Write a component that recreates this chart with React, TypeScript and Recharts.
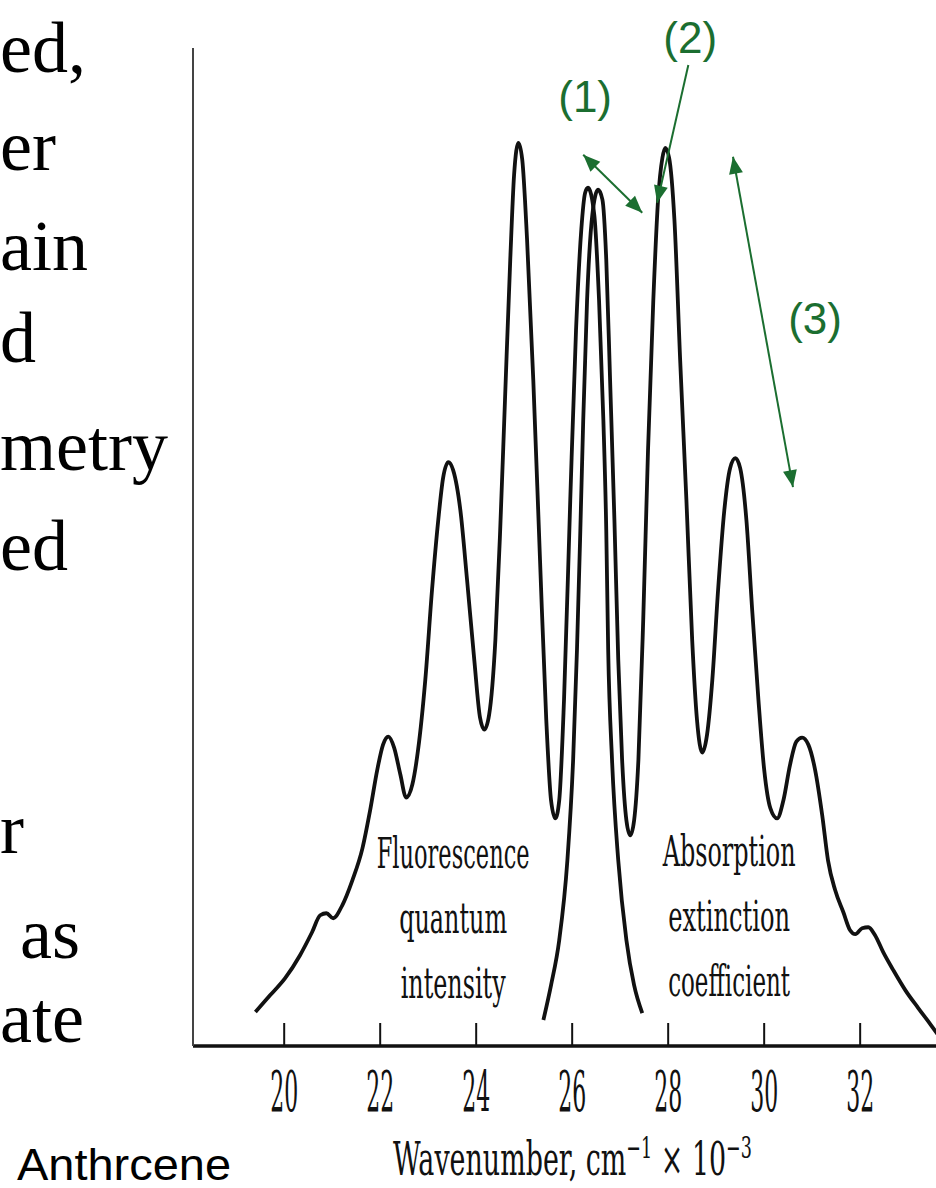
import { LineChart, Line, XAxis, YAxis, ReferenceLine, ReferenceDot } from 'recharts';

// wavenumber (cm^-1 x 10^-3) and relative height
const fluorescenceWavenumber = [
  19.4, 19.71, 20.02, 20.33, 20.58, 20.75, 20.88, 21.02, 21.21, 21.42, 21.63, 21.79, 21.94,
  22.06, 22.17, 22.29, 22.42, 22.54, 22.67, 22.79, 22.94, 23.08, 23.21, 23.31, 23.42, 23.52,
  23.67, 23.81, 23.96, 24.08, 24.17, 24.27, 24.4, 24.5, 24.6, 24.71, 24.79, 24.88, 24.96,
  25.06, 25.19, 25.33, 25.46, 25.56, 25.65, 25.73, 25.83, 25.96, 26.08, 26.19, 26.27, 26.33,
  26.46, 26.56, 26.65, 26.71, 26.75, 26.83, 26.96, 27.13, 27.29, 27.46,
];
const fluorescenceIntensity = [
  3.4, 5.1, 6.8, 9.1, 11.4, 13.1, 13.3, 12.8, 14.1, 16.6, 19.8, 23.6, 27.7,
  30.2, 31.0, 29.9, 27.2, 24.9, 26.2, 29.7, 36.7, 45.7, 52.7, 56.9, 58.5, 57.7,
  53.7, 46.7, 38.7, 32.9, 31.7, 33.2, 40.7, 51.7, 64.7, 78.8, 87.3, 90.5, 88.8,
  80.8, 66.7, 48.7, 32.7, 24.6, 22.8, 24.6, 34.7, 54.7, 71.7, 81.8, 85.5, 86.0,
  83.3, 74.7, 62.7, 51.7, 39.7, 28.7, 18.6, 10.6, 6.1, 3.3,
];

const absorptionWavenumber = [
  25.4, 25.56, 25.73, 25.9, 26.02, 26.1, 26.17, 26.23, 26.31, 26.42, 26.54, 26.63, 26.71,
  26.79, 26.88, 26.96, 27.04, 27.13, 27.21, 27.29, 27.38, 27.48, 27.58, 27.69, 27.79, 27.88,
  27.94, 28.02, 28.13, 28.25, 28.38, 28.5, 28.6, 28.71, 28.81, 28.92, 29.04, 29.17, 29.29,
  29.4, 29.5, 29.63, 29.75, 29.88, 30.0, 30.13, 30.27, 30.4, 30.54, 30.67, 30.79, 30.92,
  31.06, 31.21, 31.33, 31.48, 31.65, 31.79, 31.9, 32.04, 32.17, 32.31, 32.48, 32.69, 32.94,
  33.21, 33.46, 33.67,
];
const absorptionCoefficient = [
  2.6, 6.1, 10.6, 18.6, 28.7, 39.7, 51.7, 62.7, 74.7, 83.3, 85.8, 84.8, 78.8,
  66.7, 52.7, 38.7, 28.7, 22.6, 21.1, 22.6, 28.7, 42.7, 59.7, 74.7, 84.8, 89.0,
  90.0, 89.0, 82.8, 68.7, 54.7, 40.7, 32.7, 29.4, 31.2, 36.7, 45.7, 53.7, 57.9,
  58.9, 57.9, 52.7, 43.7, 34.7, 27.7, 23.8, 22.8, 24.6, 28.2, 30.5, 30.9, 30.2,
  27.7, 23.1, 18.6, 15.6, 13.4, 11.6, 11.2, 11.8, 11.9, 11.1, 9.4, 7.6, 5.6,
  3.8, 2.2, 0.8,
];

const xTicks = [20, 22, 24, 26, 28, 30, 32];

// green annotations: arrow ends and labels, in chart units
const arrowFrom = [{ x: 26.23, y: 89.3 }, { x: 28.42, y: 98.3 }, { x: 29.35, y: 89.1 }];
const arrowTo = [{ x: 27.46, y: 83.5 }, { x: 27.77, y: 84.5 }, { x: 30.6, y: 56.0 }];
const arrowDouble = [true, false, true];
const noteText = ['(1)', '(2)', '(3)'];
const noteAt = [{ x: 26.27, y: 95.1 }, { x: 28.46, y: 101.1 }, { x: 31.06, y: 72.9 }];

const fluorescenceLabel = ['Fluorescence', 'quantum', 'intensity'];
const absorptionLabel = ['Absorption', 'extinction', 'coefficient'];

// bits of slide text cut off at the left edge
const slideWords = ['ed,', 'er', 'ain', 'd', 'metry', 'ed', 'r', 'as', 'ate'];

const fluorescenceData = fluorescenceWavenumber.map((v, i) => ({ v, y: fluorescenceIntensity[i] }));
const absorptionData = absorptionWavenumber.map((v, i) => ({ v, y: absorptionCoefficient[i] }));

const GREEN = '#1b6e30';
const INK = '#111';
const SERIF = "'DejaVu Serif', 'Liberation Serif', serif";

const WaveTick = (props: any) => {
  const { x, y, payload } = props;
  return (
    <g>
      <line x1={x} y1={y} x2={x} y2={y - 23} stroke={INK} strokeWidth={2} />
      <text x={x} y={y + 65} textAnchor="middle" fontFamily={SERIF} fontSize={56}
        textLength={28} lengthAdjust="spacingAndGlyphs" fill={INK}>
        {payload.value}
      </text>
    </g>
  );
};

const head = (ax: number, ay: number, bx: number, by: number) => {
  const a = Math.atan2(by - ay, bx - ax);
  const len = 17, half = 7;
  const cx = bx - len * Math.cos(a), cy = by - len * Math.sin(a);
  return `${bx},${by} ${cx - half * Math.sin(a)},${cy + half * Math.cos(a)} ${cx + half * Math.sin(a)},${cy - half * Math.cos(a)}`;
};

const makeArrow = (both: boolean) => (p: any) => {
  const { x1, y1, x2, y2 } = p;
  return (
    <g>
      <line x1={x1} y1={y1} x2={x2} y2={y2} stroke={GREEN} strokeWidth={2} />
      <polygon points={head(x1, y1, x2, y2)} fill={GREEN} />
      {both && <polygon points={head(x2, y2, x1, y1)} fill={GREEN} />}
    </g>
  );
};

const makeNote = (text: string) => (p: any) => (
  <text x={p.cx} y={p.cy} textAnchor="middle" dominantBaseline="central"
    fontFamily="'Liberation Sans', Arial, sans-serif" fontSize={44} fill={GREEN}>
    {text}
  </text>
);

const makeBlock = (lines: string[], widths: number[]) => (p: any) => (
  <g>
    {lines.map((s, i) => (
      <text key={s} x={p.cx} y={p.cy + i * 65} textAnchor="middle" fontFamily={SERIF}
        fontSize={42} textLength={widths[i]} lengthAdjust="spacingAndGlyphs" fill={INK}>
        {s}
      </text>
    ))}
  </g>
);

// condensed serif title, squeezed with a horizontal scale
const AxisTitle = (p: any) => {
  const vb = p.viewBox;
  const cx = vb.x + vb.width / 2 + 8;
  return (
    <text transform={`translate(${cx} ${vb.y + 129}) scale(0.585 1)`} textAnchor="middle"
      fontFamily={SERIF} fontSize={46} fill={INK}>
      Wavenumber, cm<tspan dy={-17} fontSize={30}>−1</tspan>
      <tspan dy={17}> × 10</tspan>
      <tspan dy={-17} fontSize={30}>−3</tspan>
    </text>
  );
};

const slideBaselines = [72, 170, 270, 362, 470, 570, 853, 958, 1042];
const slideLeft = [0, 0, 0, 0, 0, 0, 0, 20, 0];

export default function App() {
  return (
    <div style={{ position: 'absolute', left: 0, top: 0, width: 936, height: 1188, background: '#fff', overflow: 'hidden' }}>
      <svg width={936} height={1188} style={{ position: 'absolute', left: 0, top: 0 }}>
        {slideWords.map((w, i) => (
          <text key={i} x={slideLeft[i]} y={slideBaselines[i]} fontFamily="'Liberation Serif', 'Times New Roman', serif"
            fontSize={72} fill="#000">
            {w}
          </text>
        ))}
        <text x={17} y={1180} fontFamily="'Liberation Sans', Arial, sans-serif" fontSize={44}
          textLength={214} lengthAdjust="spacingAndGlyphs" fill="#000">
          Anthrcene
        </text>
      </svg>
      <div style={{ position: 'absolute', left: 0, top: 0 }}>
        <LineChart width={936} height={1188} margin={{ top: 48, right: 0, left: 0, bottom: 0 }}>
          <XAxis type="number" dataKey="v" domain={[18.1, 33.58]} allowDataOverflow ticks={xTicks}
            height={142} tickSize={0} tickMargin={0} tickLine={false} tick={<WaveTick />}
            axisLine={{ stroke: INK, strokeWidth: 3.5 }} label={{ content: <AxisTitle /> }} />
          <YAxis type="number" domain={[0, 100]} width={193} tick={false} tickLine={false}
            axisLine={{ stroke: '#444', strokeWidth: 2 }} />
          <Line data={fluorescenceData} dataKey="y" type="monotone" stroke={INK} strokeWidth={3.8}
            dot={false} isAnimationActive={false} />
          <Line data={absorptionData} dataKey="y" type="monotone" stroke={INK} strokeWidth={3.8}
            dot={false} isAnimationActive={false} />
          <ReferenceDot x={23.52} y={17.8} r={0} ifOverflow="visible"
            shape={makeBlock(fluorescenceLabel, [153, 108, 105])} />
          <ReferenceDot x={29.27} y={18.0} r={0} ifOverflow="visible"
            shape={makeBlock(absorptionLabel, [133, 122, 122])} />
          {noteText.map((t, i) => (
            <ReferenceDot key={t} x={noteAt[i].x} y={noteAt[i].y} r={0} ifOverflow="visible"
              shape={makeNote(t)} />
          ))}
          {arrowFrom.map((f, i) => (
            <ReferenceLine key={i} segment={[f, arrowTo[i]]} ifOverflow="visible"
              shape={makeArrow(arrowDouble[i])} />
          ))}
        </LineChart>
      </div>
    </div>
  );
}
